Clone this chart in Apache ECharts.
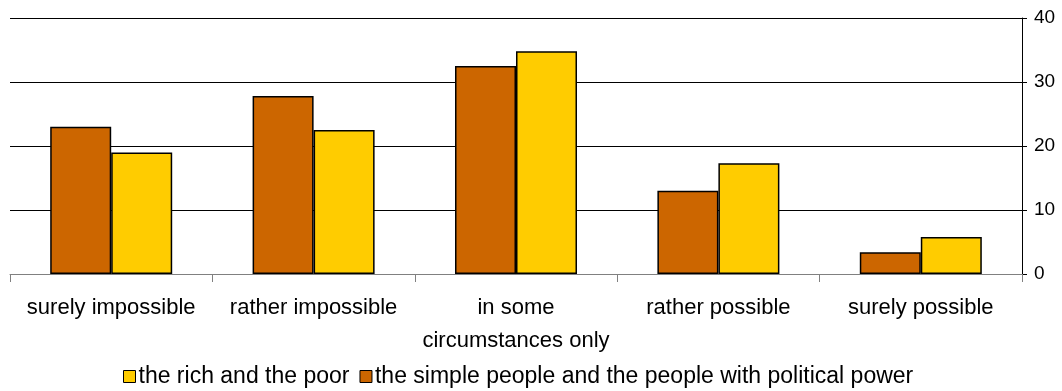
<!DOCTYPE html>
<html>
<head>
<meta charset="utf-8">
<script src="https://cdn.jsdelivr.net/npm/echarts@6/dist/echarts.min.js"></script>
<style>
  html, body { margin: 0; padding: 0; background: #fff; }
  #chart { width: 1062px; height: 391px; }
</style>
</head>
<body>
<div id="chart"></div>
<script>
const categories = ['surely impossible', 'rather impossible', 'in some\ncircumstances only', 'rather possible', 'surely possible'];
const simplePeopleVsPower = [23, 27.8, 32.5, 13, 3.4];
const richVsPoor = [19, 22.5, 34.8, 17.3, 5.8];
const yTicks = [0, 10, 20, 30, 40];

const seriesNames = {
  power: 'the simple people and the people with political power',
  rich: 'the rich and the poor'
};

const chart = echarts.init(document.getElementById('chart'));
const font = 'Liberation Sans, Arial, sans-serif';

chart.setOption({
  animation: false,
  textStyle: { fontFamily: font },
  grid: { left: 10, right: 40, top: 18, bottom: 117 },
  legend: {
    top: 365,
    left: 123,
    data: [seriesNames.rich, seriesNames.power],
    itemWidth: 12,
    itemHeight: 12,
    itemGap: 10,
    icon: 'rect',
    padding: 0,
    textStyle: { fontSize: 23, color: '#000', fontFamily: font, padding: [0, 0, 0, -2] },
    itemStyle: { borderColor: '#000', borderWidth: 1 }
  },
  xAxis: {
    type: 'category',
    data: categories,
    axisLine: { lineStyle: { color: '#808080', width: 1 } },
    axisTick: { show: true, alignWithLabel: false, length: 8, lineStyle: { color: '#808080' } },
    axisLabel: { color: '#000', fontSize: 22, margin: 17, lineHeight: 33, fontFamily: font, interval: 0 }
  },
  yAxis: {
    type: 'value',
    position: 'right',
    min: yTicks[0],
    max: yTicks[yTicks.length - 1],
    interval: 10,
    axisLine: { show: true, lineStyle: { color: '#000', width: 1 } },
    axisTick: { show: true, length: 5, lineStyle: { color: '#000' } },
    axisLabel: { color: '#000', fontSize: 19, margin: 12, fontFamily: font },
    splitLine: { lineStyle: { color: '#000', width: 1 } }
  },
  series: [
    {
      name: seriesNames.power,
      type: 'bar',
      data: simplePeopleVsPower,
      barWidth: 61,
      barGap: '0%',
      itemStyle: { color: '#CC6600', borderColor: '#000', borderWidth: 1.5 }
    },
    {
      name: seriesNames.rich,
      type: 'bar',
      data: richVsPoor,
      barWidth: 61,
      barGap: '0%',
      itemStyle: { color: '#FFCC00', borderColor: '#000', borderWidth: 1.5 }
    }
  ]
});
</script>
</body>
</html>
